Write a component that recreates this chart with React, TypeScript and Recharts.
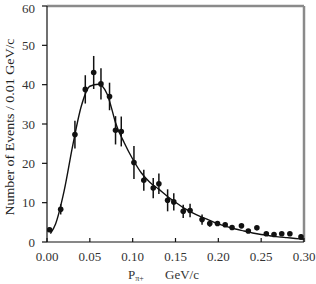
import {
  ComposedChart,
  Line,
  Scatter,
  ErrorBar,
  XAxis,
  YAxis,
  ReferenceLine,
} from "recharts";

// measured points: momentum (GeV/c), events, error
const pX = [0.003, 0.016, 0.0326, 0.0447, 0.0545, 0.063, 0.073, 0.08, 0.0867, 0.1015, 0.113, 0.124, 0.1306, 0.1408, 0.148, 0.159, 0.167, 0.181, 0.19, 0.199, 0.208, 0.216, 0.227, 0.235, 0.245, 0.256, 0.265, 0.274, 0.2835, 0.2965];
const pY = [3.1, 8.3, 27.3, 38.8, 43.1, 40.2, 37.0, 28.4, 28.1, 20.2, 15.7, 13.7, 14.8, 10.6, 10.2, 7.8, 8.0, 5.7, 4.7, 4.7, 4.4, 3.7, 4.1, 2.8, 3.6, 2.1, 1.9, 2.1, 2.1, 1.3];
const pErr = [0.5, 1.3, 3.5, 3.6, 4.2, 4.0, 3.5, 3.6, 3.8, 4.2, 2.7, 2.6, 2.6, 2.8, 2.2, 1.7, 1.7, 1.3, 0.8, 0.6, 0.5, 0.5, 0, 0, 0, 0, 0, 0, 0, 0.6];

// fitted curve
const fitX = [0.004, 0.01, 0.02, 0.03, 0.04, 0.05, 0.06, 0.07, 0.075, 0.08, 0.09, 0.1, 0.11, 0.12, 0.13, 0.14, 0.15, 0.16, 0.17, 0.18, 0.19, 0.2, 0.21, 0.22, 0.23, 0.24, 0.25, 0.26, 0.27, 0.28, 0.29, 0.3];
const fitY = [2.1, 4.6, 13.0, 24.5, 34.5, 39.6, 40.1, 37.7, 34.3, 30.3, 25.3, 21.1, 17.6, 15.2, 13.5, 11.7, 10.1, 8.6, 7.4, 6.4, 5.5, 4.6, 3.9, 3.3, 2.8, 2.3, 1.9, 1.6, 1.3, 1.1, 0.9, 0.7];

const xTicks = [0, 0.05, 0.1, 0.15, 0.2, 0.25, 0.3];
const yTicks = [0, 10, 20, 30, 40, 50, 60];

const points = pX.map((x, i) => ({ x, y: pY[i], e: pErr[i] }));
const curve = fitX.map((x, i) => ({ x, y: fitY[i] }));

const font = "Liberation Serif";
const serif = { fontFamily: font };

const XTick = (props: any) => {
  const { x, y, payload } = props;
  return (
    <g>
      <line x1={x} y1={y} x2={x} y2={y - 4} stroke="#111" strokeWidth={1.2} />
      <text x={x} y={y + 19} textAnchor="middle" fontSize={13} style={serif} fill="#333">
        {payload.value.toFixed(2)}
      </text>
    </g>
  );
};

const Dot = (props: any) => <circle cx={props.cx} cy={props.cy} r={2.8} fill="#111" />;

export default function App() {
  return (
    <div style={{ position: "relative", width: 316, height: 284, background: "#fff", fontFamily: font }}>
      <style>{`body{margin:0}`}</style>
      <ComposedChart width={316} height={284} margin={{ top: 6, right: 12, bottom: 0, left: 0 }}>
        <XAxis
          dataKey="x"
          type="number"
          domain={[0, 0.3]}
          ticks={xTicks}
          height={42}
          tickSize={0}
          tickMargin={0}
          tickLine={false}
          tick={<XTick />}
          axisLine={{ stroke: "#111", strokeWidth: 1.2 }}
          allowDataOverflow
        />
        <YAxis
          type="number"
          domain={[0, 60]}
          ticks={yTicks}
          width={47}
          tickSize={5}
          tickMargin={7}
          tickLine={{ stroke: "#111", strokeWidth: 1.2 }}
          axisLine={{ stroke: "#111", strokeWidth: 1.2 }}
          tick={{ fontSize: 13, fontFamily: font, fill: "#333", style: serif }}
          allowDataOverflow
        />
        <ReferenceLine y={60} stroke="#8a8a8a" strokeWidth={2.5} />
        <ReferenceLine x={0.3} stroke="#8a8a8a" strokeWidth={2.5} />
        <Line
          data={curve}
          dataKey="y"
          type="monotone"
          stroke="#111"
          strokeWidth={1.4}
          dot={false}
          isAnimationActive={false}
        />
        <Scatter data={points} dataKey="y" shape={<Dot />} isAnimationActive={false}>
          <ErrorBar dataKey="e" direction="y" width={0} stroke="#111" strokeWidth={1.5} />
        </Scatter>
      </ComposedChart>
      <svg width={316} height={284} style={{ position: "absolute", left: 0, top: 0, pointerEvents: "none" }}>
        <text
          transform="translate(14,127) rotate(-90)"
          textAnchor="middle"
          fontSize={13}
          style={serif}
          fill="#222"
          textLength={177}
          lengthAdjust="spacingAndGlyphs"
        >
          Number of Events / 0.01 GeV/c
        </text>
        <text x={128} y={279} fontSize={13} style={serif} fill="#333">
          P<tspan fontSize={8} dy={2}>π+</tspan>
        </text>
        <text x={165} y={279} fontSize={13} style={serif} fill="#333">
          GeV/c
        </text>
      </svg>
    </div>
  );
}
